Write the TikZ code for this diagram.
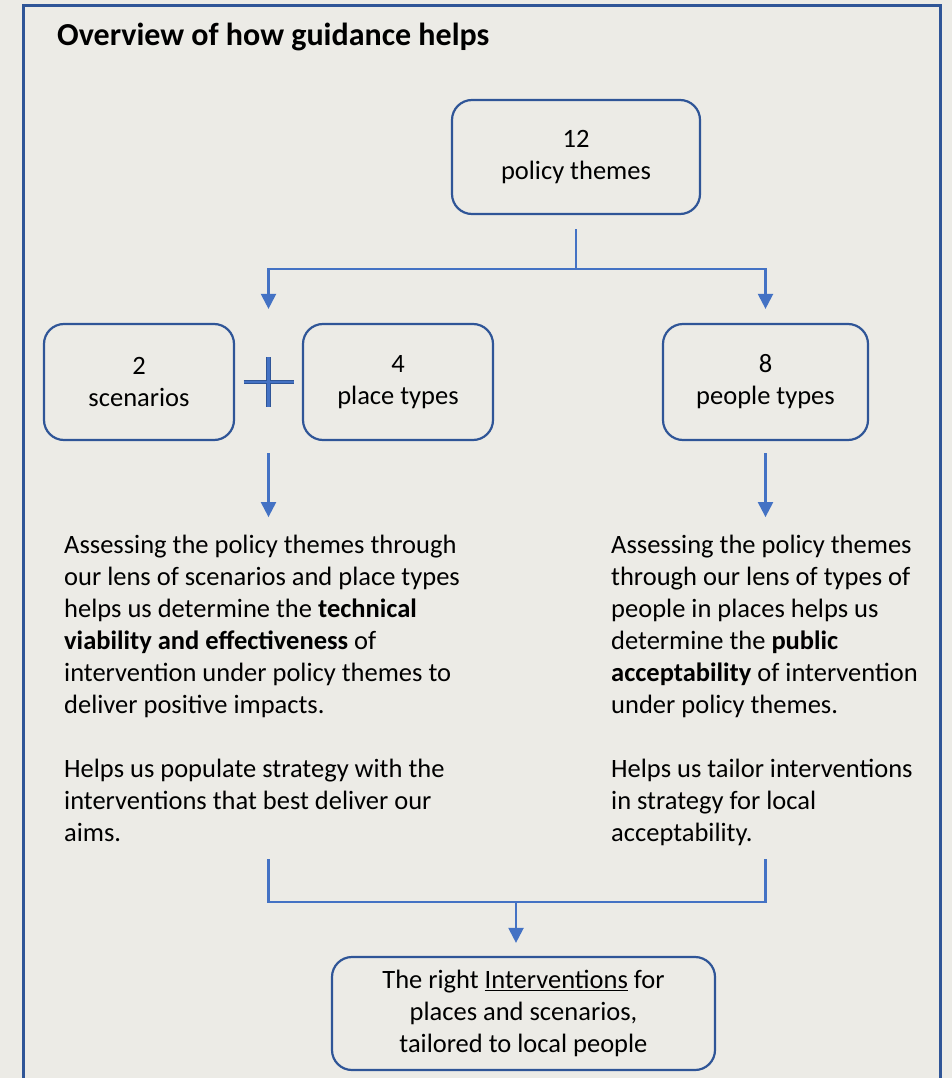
\documentclass[tikz,border=0pt]{standalone}
\usepackage{fontspec}
\setmainfont{Carlito}
\usetikzlibrary{arrows.meta,calc}
\definecolor{bgcol}{HTML}{ECEBE6}
\definecolor{framecol}{HTML}{2F5597}
\definecolor{linecol}{HTML}{4472C4}
\tikzset{
  stagebox/.style={draw=framecol, line width=2.2pt, rounded corners=20pt,
    align=center, font=\fontsize{26.5}{32}\selectfont, inner sep=0pt},
  conn/.style={draw=linecol, line width=2.2pt},
  arr/.style={conn, -{Triangle[width=15pt,length=15pt]}},
  % multi-line text: the base anchor sits on the last baseline
  bodytext/.style={align=left, anchor=base west, inner sep=0pt,
    font=\fontsize{26.5}{32}\selectfont},
}
\begin{document}
\begin{tikzpicture}[x=1pt,y=-1pt]
\clip (0,0) rectangle (952,1078);
\fill[bgcol] (0,0) rectangle (952,1078);
% outer frame, open at the bottom
\draw[framecol, line width=3pt] (23.5,1100) |- (940.5,6) -- (940.5,1100);

\node[anchor=base west, inner sep=0pt, font=\fontsize{32}{36}\selectfont\bfseries]
  (title) at (57,46) {Overview of how guidance helps};

% boxes
\node[stagebox, minimum width=248pt, minimum height=114pt] (policy) at (576,157) {12\\policy themes};
\node[stagebox, minimum width=190pt, minimum height=116pt] (scen) at (139,382) {2\\scenarios};
\node[stagebox, minimum width=190pt, minimum height=116pt] (place) at (398,382) {4\\place types};
\node[stagebox, minimum width=205pt, minimum height=116pt] (people) at (765.5,382) {8\\people types};
\node[stagebox, minimum width=383pt, minimum height=113pt] (result) at (523.5,1013.5)
  {The right \underline{Interventions} for\\places and scenarios,\\tailored to local people};

% plus sign between scenarios and place types
\coordinate (plus) at ($(scen.east)!0.5!(place.west)$);
\draw[framecol, line width=1.3pt, double=linecol, double distance=2.2pt]
  ($(plus)+(-25,0)$) -- ($(plus)+(25,0)$)
  ($(plus)+(0,-25)$) -- ($(plus)+(0,25)$);

% text blocks
\node[bodytext] (lefttext) at (64,841) {Assessing the policy themes through\\
our lens of scenarios and place types\\
helps us determine the \textbf{technical}\\
\textbf{viability and effectiveness} of\\
intervention under policy themes to\\
deliver positive impacts.\\[32pt]
Helps us populate strategy with the\\
interventions that best deliver our\\
aims.};
\node[bodytext] (righttext) at (611,841) {Assessing the policy themes\\
through our lens of types of\\
people in places helps us\\
determine the \textbf{public}\\
\textbf{acceptability} of intervention\\
under policy themes.\\[32pt]
Helps us tailor interventions\\
in strategy for local\\
acceptability.};

% connectors
\coordinate (split) at (576,269);
\draw[conn] ($(policy.south)+(0,14)$) -- (split);
\draw[arr] (split) -| ($(plus |- scen.north)+(0,-14)$);
\draw[arr] (split) -| ($(people.north)+(0,-14)$);
\draw[arr] ($(plus |- scen.south)+(0,12)$) -- ++(0,64);
\draw[arr] ($(people.south)+(0,12)$) -- ++(0,64);
\coordinate (join) at (516,902);
\draw[conn] (plus |- 0,859) |- (join) -| (people |- 0,859);
\draw[arr] (join) -- ($(result.north -| join)+(0,-13)$);
\end{tikzpicture}
\end{document}
